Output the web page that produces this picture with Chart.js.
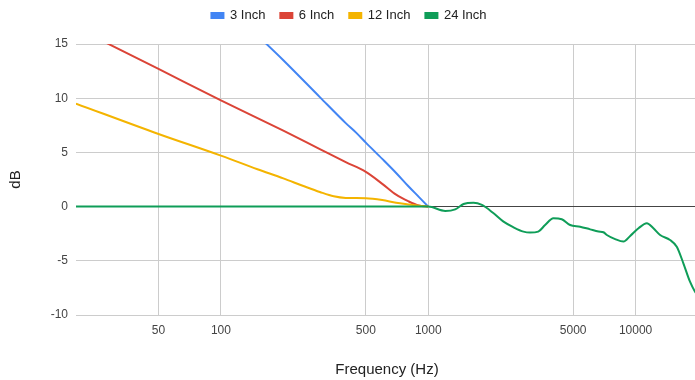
<!DOCTYPE html>
<html>
<head>
<meta charset="utf-8">
<script src="https://cdn.jsdelivr.net/npm/chart.js@4"></script>
<style>
  html, body { margin: 0; padding: 0; background: #fff; overflow: hidden; }
  #wrap { width: 698px; height: 380px; }
</style>
</head>
<body>
<div id="wrap"><canvas id="responseChart"></canvas></div>
<script>
// frequencies (Hz) and dB values
const freq3 = [150, 200, 300, 400, 450, 500, 600, 700, 800, 900, 1000];
const db3 = [15.8, 13.5, 10.1, 7.7, 6.8, 5.9, 4.4, 3.1, 1.9, 0.9, 0];

const freq6 = [20, 50, 100, 200, 300, 400, 500, 600, 700, 800, 900, 1000];
const db6 = [16.5, 12.7, 9.8, 7.0, 5.3, 4.1, 3.2, 2.1, 1.1, 0.5, 0.1, 0];

const freq12 = [20, 50, 100, 150, 200, 250, 300, 350, 400, 500, 600, 700, 800, 900, 1000];
const db12 = [9.5, 6.7, 4.7, 3.45, 2.6, 1.9, 1.35, 0.95, 0.8, 0.77, 0.6, 0.35, 0.2, 0.08, 0];

const freq24 = [20, 100, 300, 600, 1000, 1208, 1349, 1480, 1652, 1815, 2066, 2307, 2577, 2879, 3097, 3393,
    3661, 4015, 4405, 4833, 5403, 6037, 6625, 7000, 7267, 7968, 8745, 9418, 10330, 11330, 12190, 13130,
    14660, 15800, 17000, 18300, 19350, 20000];
const db24 = [0, 0, 0, 0, 0, -0.4, -0.25, 0.24, 0.36, 0.15, -0.62, -1.39, -1.91, -2.31, -2.4, -2.31,
    -1.7, -1.08, -1.17, -1.7, -1.85, -2.1, -2.3, -2.37, -2.62, -3.0, -3.23, -2.71, -2.0, -1.54, -2.0, -2.62,
    -3.08, -3.7, -5.23, -6.93, -7.85, -8.2];

const seriesNames = ['3 Inch', '6 Inch', '12 Inch', '24 Inch'];
const seriesColors = ['#4285f4', '#db4437', '#f4b400', '#0f9d58'];
const xTicks = [50, 100, 500, 1000, 5000, 10000];
const yTicks = [-10, -5, 0, 5, 10, 15];

function toPoints(xs, ys) {
    return xs.map((x, i) => ({ x: x, y: ys[i] }));
}

const allSeries = [
    toPoints(freq3, db3),
    toPoints(freq6, db6),
    toPoints(freq12, db12),
    toPoints(freq24, db24)
];

Chart.defaults.font.family = 'Arial, "Liberation Sans", sans-serif';
Chart.defaults.color = '#444';

// give the legend a fixed height so the plot starts where it does in the picture
const legendHeight = {
    id: 'legendHeight',
    beforeInit(chart) {
        const origFit = chart.legend.fit;
        chart.legend.fit = function () {
            origFit.call(this);
            this.height = 50;
        };
    }
};

let ctx = document.getElementById('responseChart');
new Chart(ctx, {
    type: 'line',
    data: {
        datasets: allSeries.map((pts, i) => ({
            label: seriesNames[i],
            data: pts,
            borderColor: seriesColors[i],
            backgroundColor: seriesColors[i],
            borderWidth: 2,
            pointRadius: 0,
            pointHoverRadius: 0,
            cubicInterpolationMode: 'monotone',
            order: 3 - i
        }))
    },
    options: {
        responsive: true,
        maintainAspectRatio: false,
        animation: false,
        layout: {
            padding: { top: -6, left: 0, right: 0, bottom: 0 }
        },
        scales: {
            x: {
                type: 'logarithmic',
                min: 20,
                max: 20000,
                afterBuildTicks: (scale) => {
                    scale.ticks = xTicks.map(v => ({ value: v }));
                },
                afterFit: (scale) => {
                    scale.height = 65;
                },
                grid: {
                    color: '#cccccc',
                    drawTicks: false
                },
                border: {
                    display: false
                },
                ticks: {
                    padding: 8,
                    maxRotation: 0,
                    autoSkip: false,
                    font: { size: 12 },
                    color: '#444',
                    callback: (v) => String(v)
                },
                title: {
                    display: true,
                    text: 'Frequency (Hz)',
                    color: '#222',
                    font: { size: 15 },
                    padding: { top: 0, bottom: 1 }
                }
            },
            y: {
                min: -10,
                max: 15,
                afterBuildTicks: (scale) => {
                    scale.ticks = yTicks.map(v => ({ value: v }));
                },
                afterFit: (scale) => {
                    scale.width = 76;
                },
                grid: {
                    color: (c) => (c.tick && c.tick.value === 0 ? '#444444' : '#cccccc'),
                    drawTicks: false
                },
                border: {
                    display: false
                },
                ticks: {
                    padding: 8,
                    font: { size: 12 },
                    color: '#444'
                },
                title: {
                    display: true,
                    text: 'dB',
                    color: '#222',
                    font: { size: 15 },
                    padding: { top: 7, bottom: 0 }
                }
            }
        },
        plugins: {
            legend: {
                position: 'top',
                labels: {
                    boxWidth: 12,
                    boxHeight: 5,
                    padding: 15,
                    color: '#222',
                    font: { size: 13 },
                    sort: (a, b) => a.datasetIndex - b.datasetIndex
                }
            },
            tooltip: { enabled: false }
        }
    },
    plugins: [legendHeight]
});
</script>
</body>
</html>
